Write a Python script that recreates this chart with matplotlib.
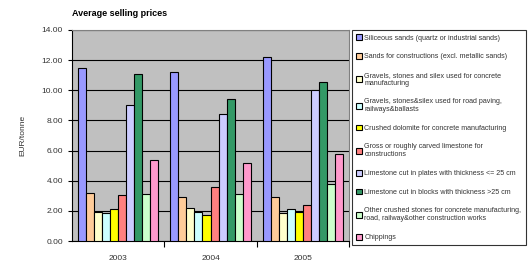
import numpy as np
import matplotlib
matplotlib.use('Agg')
from matplotlib import pyplot as plt
from matplotlib.patches import Patch

plt.rcParams['font.family'] = ['Liberation Sans', 'DejaVu Sans']

years = ['2003', '2004', '2005']
labels = ['Siliceous sands (quartz or industrial sands)',
          'Sands for constructions (excl. metallic sands)',
          'Gravels, stones and silex used for concrete\nmanufacturing',
          'Gravels, stones&silex used for road paving,\nrailways&ballasts',
          'Crushed dolomite for concrete manufacturing',
          'Gross or roughly carved limestone for\nconstructions',
          'Limestone cut in plates with thickness <= 25 cm',
          'Limestone cut in blocks with thickness >25 cm',
          'Other crushed stones for concrete manufacturing,\nroad, railway&other construction works',
          'Chippings']
colors = ['#9999FF', '#FFCC99', '#FFFFCC', '#CCFFFF', '#FFFF00',
          '#FF8080', '#CCCCFF', '#339966', '#CCFFCC', '#FF99CC']

siliceous = [11.5, 11.2, 12.2]
sands = [3.2, 2.95, 2.9]
gravels_concrete = [1.95, 2.2, 1.85]
gravels_road = [1.85, 1.9, 2.15]
dolomite = [2.1, 1.7, 1.95]
gross = [3.05, 3.55, 2.4]
plates = [9.05, 8.4, 10.0]
blocks = [11.1, 9.45, 10.55]
other = [3.15, 3.1, 3.8]
chippings = [5.35, 5.2, 5.8]
series = [siliceous, sands, gravels_concrete, gravels_road, dolomite,
          gross, plates, blocks, other, chippings]

fig = plt.figure(figsize=(5.29, 2.63), dpi=100)
ax = fig.add_axes([72/529, 1 - 241/263, 277/529, 211/263])
ax.set_facecolor('#C0C0C0')

w = 1 / 11.5
x = np.arange(len(years))
for i, vals in enumerate(series):
    ax.bar(x + (i - 4.5) * w, vals, width=w, color=colors[i],
           edgecolor='black', linewidth=0.8, zorder=3)

ax.set_xlim(-0.5, 2.5)
ax.set_ylim(0, 14)
ax.set_yticks(np.arange(0, 15, 2))
ax.set_yticklabels(['%.2f' % v for v in np.arange(0, 15, 2)])
ax.yaxis.grid(True, color='black', linewidth=0.8, zorder=0)
ax.set_xticks([0.5, 1.5, 2.5])
ax.set_xticklabels([])
ax.set_xticks(x, minor=True)
ax.set_xticklabels(years, minor=True)
ax.tick_params(axis='x', which='major', length=4, direction='out', width=0.8)
ax.tick_params(axis='x', which='minor', length=0, pad=10)
ax.tick_params(axis='y', length=3, direction='out', width=0.8)
ax.tick_params(which='both', labelsize=6, labelcolor='#333333')
for s in ['top', 'right']:
    ax.spines[s].set_color('#808080')
ax.spines['left'].set_linewidth(0.8)
ax.spines['bottom'].set_linewidth(0.8)
ax.set_ylabel('EUR/tonne', fontsize=6, color='#333333', labelpad=11)

fig.text(72/529, 1 - 13/263, 'Average selling prices', fontsize=6.5,
         fontweight='bold', va='center')

handles = [Patch(facecolor=c, edgecolor='black', linewidth=0.8) for c in colors]
leg = fig.legend(handles, labels, loc='upper left',
                 bbox_to_anchor=(352/529, 1 - 30/263), fontsize=5.1,
                 frameon=True, fancybox=False, edgecolor='black',
                 handlelength=0.85, handleheight=0.85, handletextpad=0.3,
                 labelspacing=1.62, borderpad=0.6, borderaxespad=0)
leg.get_frame().set_linewidth(0.8)
for t in leg.get_texts():
    t.set_color('#333333')

fig.savefig('out.png', dpi=100)
